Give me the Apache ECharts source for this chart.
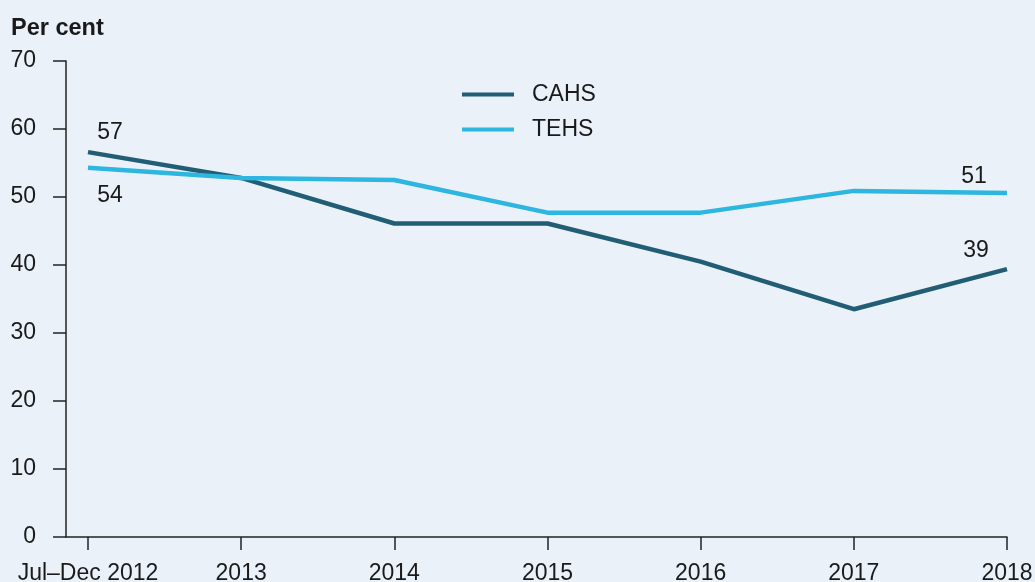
<!DOCTYPE html>
<html>
<head>
<meta charset="utf-8">
<script src="https://cdn.jsdelivr.net/npm/echarts@6/dist/echarts.min.js"></script>
<style>
  html, body { margin: 0; padding: 0; background: #eaf1f9; }
  #chart { width: 1035px; height: 582px; }
</style>
</head>
<body>
<div id="chart"></div>
<script>
// Period labels along the horizontal axis
const periods = ['Jul\u2013Dec 2012', '2013', '2014', '2015', '2016', '2017', '2018'];
// Per cent values by health service
const cahs = [56.6, 52.8, 46.1, 46.1, 40.5, 33.5, 39.4];
const tehs = [54.3, 52.8, 52.5, 47.7, 47.7, 50.9, 50.6];
// Vertical axis ticks
const yTicks = [0, 10, 20, 30, 40, 50, 60, 70];

const FONT = '"Liberation Sans", Arial, sans-serif';
const TEXT = '#1a1a1a';
const AXIS = '#222';
const FS = 23;
const periodIdx = periods.map((_, i) => i);

// Build [index, value] points; selected points carry a rounded value label
function pairs(values, labelled) {
  return values.map((v, i) => {
    const item = { value: [i, v] };
    if (labelled[i]) {
      item.label = Object.assign({
        show: true, fontFamily: FONT, fontSize: FS, color: TEXT,
        formatter: String(Math.round(v))
      }, labelled[i]);
    }
    return item;
  });
}

const chart = echarts.init(document.getElementById('chart'), null, { renderer: 'canvas' });
chart.setOption({
  backgroundColor: '#eaf1f9',
  animation: false,
  title: {
    text: 'Per cent', left: 6, top: 12,
    textStyle: { fontFamily: FONT, fontSize: 23.5, fontWeight: 'bold', color: TEXT }
  },
  legend: {
    orient: 'vertical', left: 457, top: 78,
    itemWidth: 52, itemHeight: 4, itemGap: 12,
    textStyle: { fontFamily: FONT, fontSize: FS, color: TEXT, padding: [0, 0, 0, 13] },
    data: [{ name: 'CAHS', icon: 'rect' }, { name: 'TEHS', icon: 'rect' }]
  },
  grid: { left: 66, right: 28, top: 61, bottom: 45, containLabel: false, outerBoundsMode: 'none' },
  xAxis: {
    type: 'value', min: -0.1436, max: periods.length - 1,
    axisLine: { show: true, onZero: false, lineStyle: { color: AXIS, width: 1.5 } },
    axisTick: { show: true, customValues: periodIdx, length: 13, lineStyle: { color: AXIS, width: 1.5 } },
    axisLabel: {
      show: true, customValues: periodIdx, margin: 25,
      formatter: v => periods[Math.round(v)],
      fontFamily: FONT, fontSize: FS, color: TEXT
    },
    splitLine: { show: false }
  },
  yAxis: {
    type: 'value', min: yTicks[0], max: yTicks[yTicks.length - 1], interval: 10,
    axisLine: { show: true, onZero: false, lineStyle: { color: AXIS, width: 1.5 } },
    axisTick: { show: true, length: 13, lineStyle: { color: AXIS, width: 1.5 } },
    axisLabel: { margin: 30, fontFamily: FONT, fontSize: FS, color: TEXT },
    splitLine: { show: false }
  },
  series: [
    {
      name: 'CAHS', type: 'line', symbol: 'circle', symbolSize: 0,
      lineStyle: { color: '#215d74', width: 4.5 }, itemStyle: { color: '#215d74' },
      data: pairs(cahs, {
        0: { position: 'top', offset: [22, -3] },
        6: { position: 'top', offset: [-31, -2] }
      })
    },
    {
      name: 'TEHS', type: 'line', symbol: 'circle', symbolSize: 0,
      lineStyle: { color: '#2cb6e0', width: 4.5 }, itemStyle: { color: '#2cb6e0' },
      data: pairs(tehs, {
        0: { position: 'bottom', offset: [22, 11] },
        6: { position: 'top', offset: [-33, 0] }
      })
    }
  ]
});
</script>
</body>
</html>
